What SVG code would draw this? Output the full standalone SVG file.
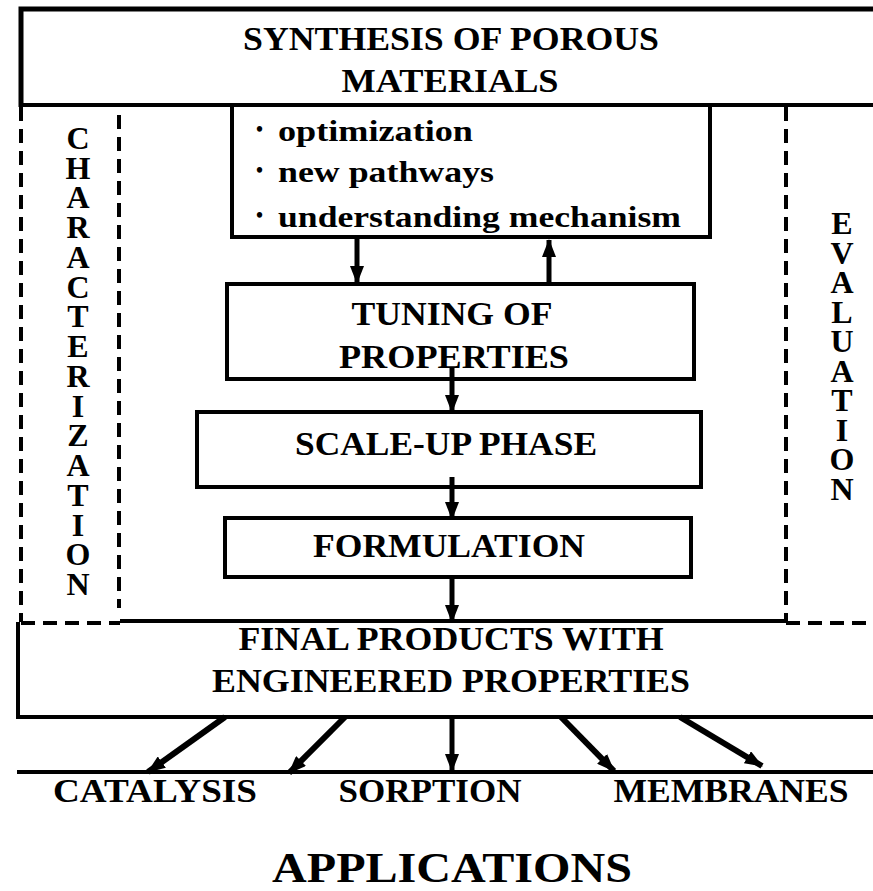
<svg xmlns="http://www.w3.org/2000/svg" width="873" height="891" viewBox="0 0 873 891">
<style>
.box{fill:none;stroke:#000;stroke-width:4}
.dash{fill:none;stroke:#000;stroke-width:4;stroke-dasharray:14 8}
.t{font-family:"Liberation Serif","Times New Roman",serif;font-weight:bold;font-size:33px;fill:#000;text-anchor:middle}
.v{font-family:"Liberation Serif","Times New Roman",serif;font-weight:bold;font-size:32px;fill:#000;writing-mode:vertical-rl;text-orientation:upright}
.b{font-family:"Liberation Serif","Times New Roman",serif;font-weight:bold;font-size:29px;fill:#000}
.bul{font-family:"Liberation Serif","Times New Roman",serif;font-weight:bold;font-size:20px;fill:#000}
.c{fill:none;stroke:#000;stroke-width:5}
</style>
<defs>
<marker id="ah" markerUnits="userSpaceOnUse" markerWidth="18" markerHeight="14" viewBox="0 0 18 14" refX="17" refY="7" orient="auto">
<path d="M0,0 L18,7 L0,14 z" fill="#000"/>
</marker>
</defs>
<rect width="873" height="891" fill="#fff"/>

<g id="synthesis">
<path d="M21,107 L21,9 L873,9" class="box" style="stroke-width:5"/>
<path d="M21,105 L873,105" class="box"/>
<text class="t" x="451" y="50" textLength="416" lengthAdjust="spacingAndGlyphs">SYNTHESIS OF POROUS</text>
<text class="t" x="450" y="92" textLength="217" lengthAdjust="spacingAndGlyphs">MATERIALS</text>
</g>

<g id="characterization">
<path d="M21,107 L21,622" class="dash"/>
<path d="M119,115 L119,608" class="dash"/>
<path d="M21,623 L120,623" class="dash"/>
<text class="v" x="78" y="120" textLength="482" lengthAdjust="spacing">CHARACTERIZATION</text>
</g>

<g id="evaluation">
<path d="M786,107 L786,622" class="dash"/>
<path d="M786,623 L873,623" class="dash"/>
<text class="v" x="842" y="205" textLength="302" lengthAdjust="spacing">EVALUATION</text>
</g>

<g id="goals">
<path d="M232,106 L232,237 L710,237 L710,106" class="box"/>
<text class="bul" x="256" y="136">•</text>
<text class="bul" x="256" y="177">•</text>
<text class="bul" x="256" y="222">•</text>
<text class="b" x="278" y="141" textLength="195" lengthAdjust="spacingAndGlyphs">optimization</text>
<text class="b" x="278" y="182" textLength="216" lengthAdjust="spacingAndGlyphs">new pathways</text>
<text class="b" x="278" y="227" textLength="403" lengthAdjust="spacingAndGlyphs">understanding mechanism</text>
</g>

<g id="tuning">
<rect x="227" y="284" width="467" height="95" class="box"/>
<text class="t" x="452" y="325" textLength="201" lengthAdjust="spacingAndGlyphs">TUNING OF</text>
<text class="t" x="454" y="368" textLength="230" lengthAdjust="spacingAndGlyphs">PROPERTIES</text>
</g>

<g id="scaleup">
<rect x="197" y="412" width="504" height="75" class="box"/>
<text class="t" x="446" y="455" textLength="302" lengthAdjust="spacingAndGlyphs">SCALE-UP PHASE</text>
</g>

<g id="formulation">
<rect x="225" y="518" width="466" height="59" class="box"/>
<text class="t" x="449" y="557" textLength="272" lengthAdjust="spacingAndGlyphs">FORMULATION</text>
</g>

<g id="final">
<path d="M120,621 L786,621" class="box"/>
<path d="M18,622 L18,717 L873,717" class="box"/>
<text class="t" x="451" y="650" textLength="425" lengthAdjust="spacingAndGlyphs">FINAL PRODUCTS WITH</text>
<text class="t" x="451" y="692" textLength="478" lengthAdjust="spacingAndGlyphs">ENGINEERED PROPERTIES</text>
</g>

<g id="applications">
<path d="M17,772 L873,772" class="box"/>
<text class="t" x="155" y="802" textLength="204" lengthAdjust="spacingAndGlyphs">CATALYSIS</text>
<text class="t" x="430" y="802" textLength="183" lengthAdjust="spacingAndGlyphs">SORPTION</text>
<text class="t" x="731" y="802" textLength="235" lengthAdjust="spacingAndGlyphs">MEMBRANES</text>
<text class="t" x="452" y="882" style="font-size:42px" textLength="360" lengthAdjust="spacingAndGlyphs">APPLICATIONS</text>
</g>

<g id="connectors">
<path d="M357,238 L357,283" class="c" marker-end="url(#ah)"/>
<path d="M549,283 L549,240" class="c" marker-end="url(#ah)"/>
<path d="M452,368 L452,412" class="c" marker-end="url(#ah)"/>
<path d="M452,477 L452,519" class="c" marker-end="url(#ah)"/>
<path d="M452,578 L452,622" class="c" marker-end="url(#ah)"/>
<path d="M225,717 L148,772" class="c" style="stroke-width:6" marker-end="url(#ah)"/>
<path d="M345,717 L289,773" class="c" style="stroke-width:6" marker-end="url(#ah)"/>
<path d="M452,717 L452,771" class="c" marker-end="url(#ah)"/>
<path d="M561,717 L614,771" class="c" style="stroke-width:6" marker-end="url(#ah)"/>
<path d="M680,717 L762,766" class="c" style="stroke-width:6" marker-end="url(#ah)"/>
</g>
</svg>
